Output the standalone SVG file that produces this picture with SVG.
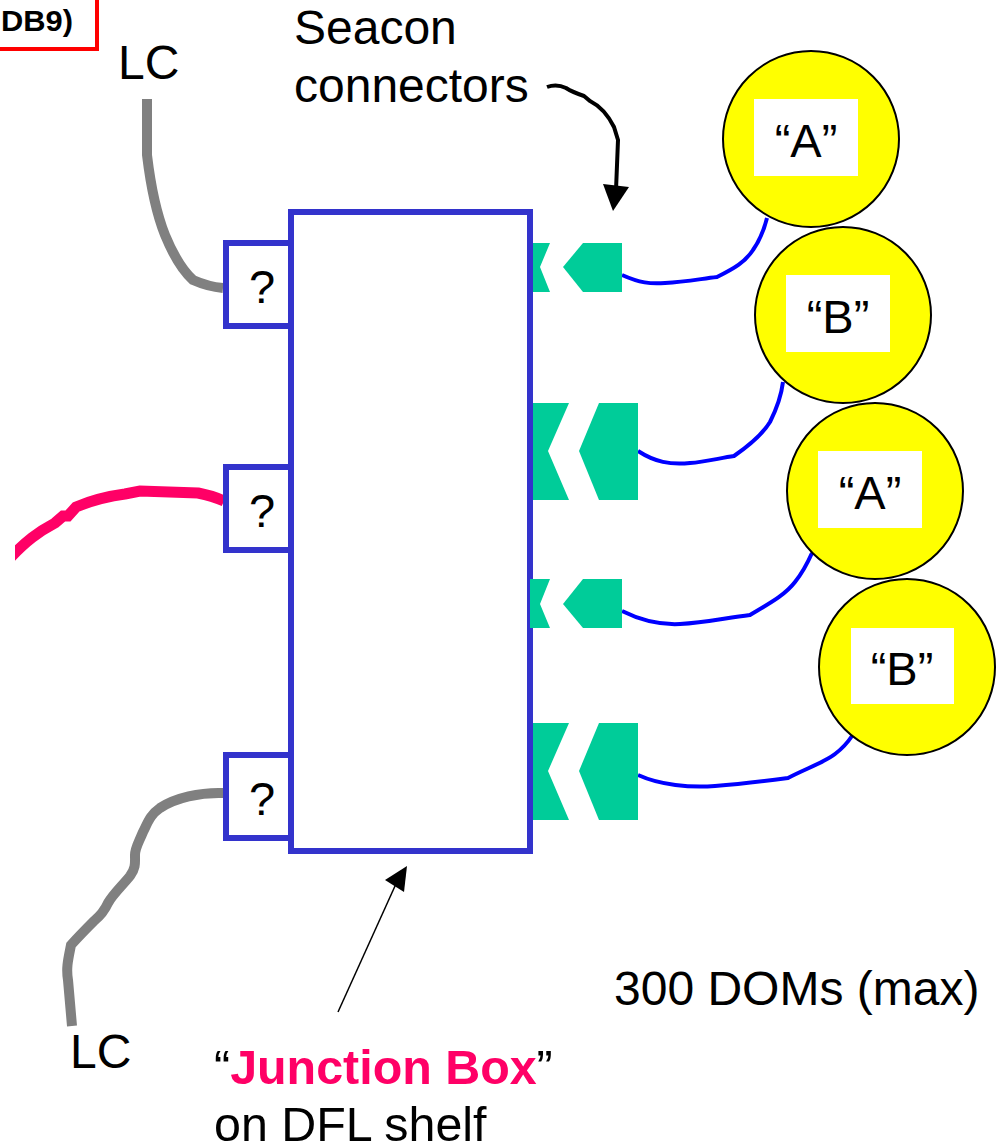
<svg xmlns="http://www.w3.org/2000/svg" width="1000" height="1146" viewBox="0 0 1000 1146">
<style>
text{font-family:"Liberation Sans",Arial,sans-serif;fill:#000}
.l{font-size:48px}
.j{font-size:48.4px}
.q{font-size:47px;text-anchor:middle}
.t{font-size:47px;text-anchor:middle}
.box{fill:#fff;stroke:#3333cc;stroke-width:6}
.dom{fill:#ffff00;stroke:#000;stroke-width:2}
.lbl{fill:#fff;stroke:none}
.con{fill:#00cc99;stroke:none}
.blue{fill:none;stroke:#0000ff;stroke-width:4}
.gray{fill:none;stroke:#808080;stroke-width:10}
</style>
<defs><clipPath id="pc"><rect x="15" y="450" width="220" height="120"/></clipPath></defs>
<g id="connectors">
<path class="gray" d="M147 99V155C150 180 155 210 165 235C172 252 182 270 193 280C202 284 212 287 223 288"/>
<path clip-path="url(#pc)" d="M8 560C26 541 38 532 55 523L63 516L68 516L76 507C95 499 110 496 125 494L140 491L198 493C208 495 215 497 224 501" fill="none" stroke="#ff0066" stroke-width="11"/>
<path class="gray" d="M224 793C200 792 175 798 160 808C150 815 148 822 143 832C138 844 135 848 135 855C135 862 136 868 130 876C122 886 113 894 108 903C104 912 100 916 94 921C86 929 80 935 71 945C68 960 66 968 68 980L72 1026"/>
<path class="blue" d="M622 275C640 283 650 284 665 283C685 282 700 279 717 277C735 268 745 262 753 250C760 240 764 230 767 218"/>
<path class="blue" d="M638 451C655 462 670 465 690 463C705 462 720 458 734 456C750 445 762 435 770 422C776 410 781 398 783 382"/>
<path class="blue" d="M622 611C640 620 660 625 680 624C705 623 725 618 750 615C770 603 785 595 795 582C803 572 808 562 812 553"/>
<path class="blue" d="M638 775C660 785 690 788 715 786C740 784 765 781 788 778C805 769 825 762 835 754C843 748 848 742 852 736"/>
<path d="M547 87C555 84 560 85 566 88C572 92 578 94 584 96L590 101C600 106 608 115 614 127L618 140L616 190" fill="none" stroke="#000" stroke-width="4"/>
<path d="M603 184L629 187L613 211Z" fill="#000"/>
<path d="M338 1012L400 875" stroke="#000" stroke-width="1.5" fill="none"/>
<path d="M385 880L407 866L404 892Z" fill="#000"/>
</g>
<g id="junction-box"><rect class="box" x="291" y="212" width="239" height="639"/></g>
<g id="port-1"><rect class="box" x="226" y="243" width="65" height="83"/><text class="q" x="262" y="303">?</text></g>
<g id="port-2"><rect class="box" x="226" y="467" width="65" height="83"/><text class="q" x="262" y="527">?</text></g>
<g id="port-3"><rect class="box" x="226" y="755" width="65" height="83"/><text class="q" x="262" y="815">?</text></g>
<g id="seacon-1"><path class="con" d="M533 243H550L540 267L550 292H533Z"/><path class="con" d="M583 243H622V292H583L563 267Z"/></g>
<g id="seacon-2"><path class="con" d="M533 403H569L548 451L569 500H533Z"/><path class="con" d="M599 403H638V500H599L579 451Z"/></g>
<g id="seacon-3"><path class="con" d="M530 579H550L540 604L550 628H530Z"/><path class="con" d="M583 579H622V628H583L563 604Z"/></g>
<g id="seacon-4"><path class="con" d="M533 723H569L548 771L569 820H533Z"/><path class="con" d="M599 723H638V820H599L579 771Z"/></g>
<g id="dom-a1"><circle class="dom" cx="811" cy="139" r="88"/><rect class="lbl" x="754" y="99" width="104" height="77"/><text class="t" x="806" y="157">“A”</text></g>
<g id="dom-b1"><circle class="dom" cx="843" cy="315" r="88"/><rect class="lbl" x="786" y="275" width="104" height="77"/><text class="t" x="838" y="333">“B”</text></g>
<g id="dom-a2"><circle class="dom" cx="875" cy="491" r="88"/><rect class="lbl" x="818" y="451" width="104" height="77"/><text class="t" x="870" y="509">“A”</text></g>
<g id="dom-b2"><circle class="dom" cx="907" cy="667" r="88"/><rect class="lbl" x="851" y="628" width="103" height="76"/><text class="t" x="902" y="685">“B”</text></g>
<g id="legend"><path d="M0 49H97V0" fill="none" stroke="#ff0000" stroke-width="4"/><text x="1" y="31" font-size="30" font-weight="bold" textLength="72" lengthAdjust="spacingAndGlyphs">DB9)</text></g>
<text class="l" x="118" y="79">LC</text>
<text class="l" x="294" y="44">Seacon</text>
<text class="l" x="294" y="102">connectors</text>
<text class="l" x="70" y="1068">LC</text>
<text class="l" x="614" y="1005">300 DOMs (max)</text>
<text class="j" x="214" y="1084">“<tspan fill="#ff0066" font-weight="bold">Junction Box</tspan>”</text>
<text class="j" x="214" y="1141">on DFL shelf</text>
</svg>
